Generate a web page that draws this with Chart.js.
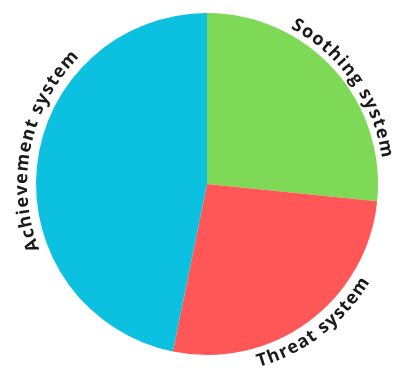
<!DOCTYPE html>
<html lang="en">
<head>
  <meta charset="UTF-8" />
  <title>Systems pie</title>
  <script src="https://cdn.jsdelivr.net/npm/chart.js"></script>
  <style>
    body { margin: 0; background: #fff; }
    .wrap { width: 402px; height: 374px; position: relative; }
  </style>
</head>
<body>
  <div class="wrap"><canvas id="pie"></canvas></div>

  <script>
    // data
    const labels = ['Soothing system', 'Threat system', 'Achievement system'];
    const values = [26.6, 26.6, 46.8];
    const colors = ['#7ED957', '#FF5757', '#0CC0DF'];

    // text bent along the rim, one char at a time
    const curvedLabels = {
      id: 'curvedLabels',
      afterDraw(chart, args, opts) {
        const ctx = chart.ctx;
        const meta = chart.getDatasetMeta(0);
        meta.data.forEach((arc, i) => {
          const p = arc.getProps(['x', 'y', 'startAngle', 'endAngle', 'outerRadius'], true);
          const mid = (p.startAngle + p.endAngle) / 2 + Math.PI / 2 + opts.shift[i] * Math.PI / 180;
          const deg = ((mid * 180 / Math.PI) % 360 + 360) % 360;
          const flip = deg > 100 && deg < 260;
          const r = p.outerRadius + opts.gap[i];
          const text = chart.data.labels[i];

          ctx.save();
          ctx.font = opts.font;
          ctx.fillStyle = opts.color;
          ctx.textAlign = 'center';
          ctx.textBaseline = 'alphabetic';

          const widths = [...text].map(ch => ctx.measureText(ch).width);
          const total = widths.reduce((s, w) => s + w, 0) + opts.spacing * (widths.length - 1);
          let a = flip ? mid + total / 2 / r : mid - total / 2 / r;

          [...text].forEach((ch, k) => {
            const w = widths[k];
            const ca = flip ? a - w / 2 / r : a + w / 2 / r;
            ctx.save();
            ctx.translate(p.x, p.y);
            ctx.rotate(flip ? ca - Math.PI : ca);
            ctx.fillText(ch, 0, flip ? r : -r);
            ctx.restore();
            a = flip ? a - (w + opts.spacing) / r : a + (w + opts.spacing) / r;
          });
          ctx.restore();
        });
      }
    };

    new Chart(document.getElementById('pie'), {
      type: 'pie',
      data: {
        labels: labels,
        datasets: [{
          data: values,
          backgroundColor: colors,
          borderWidth: 0
        }]
      },
      options: {
        responsive: true,
        maintainAspectRatio: false,
        animation: false,
        layout: { padding: { top: 13, bottom: 19, left: 36, right: 24 } },
        plugins: {
          legend: { display: false },
          tooltip: { enabled: false },
          curvedLabels: {
            font: 'bold 18px "Open Sans"',
            color: '#1a1a1a',
            spacing: 1.2,
            shift: [7, -1, 6],
            gap: [6, 19, 9]
          }
        }
      },
      plugins: [curvedLabels]
    });
  </script>
</body>
</html>
